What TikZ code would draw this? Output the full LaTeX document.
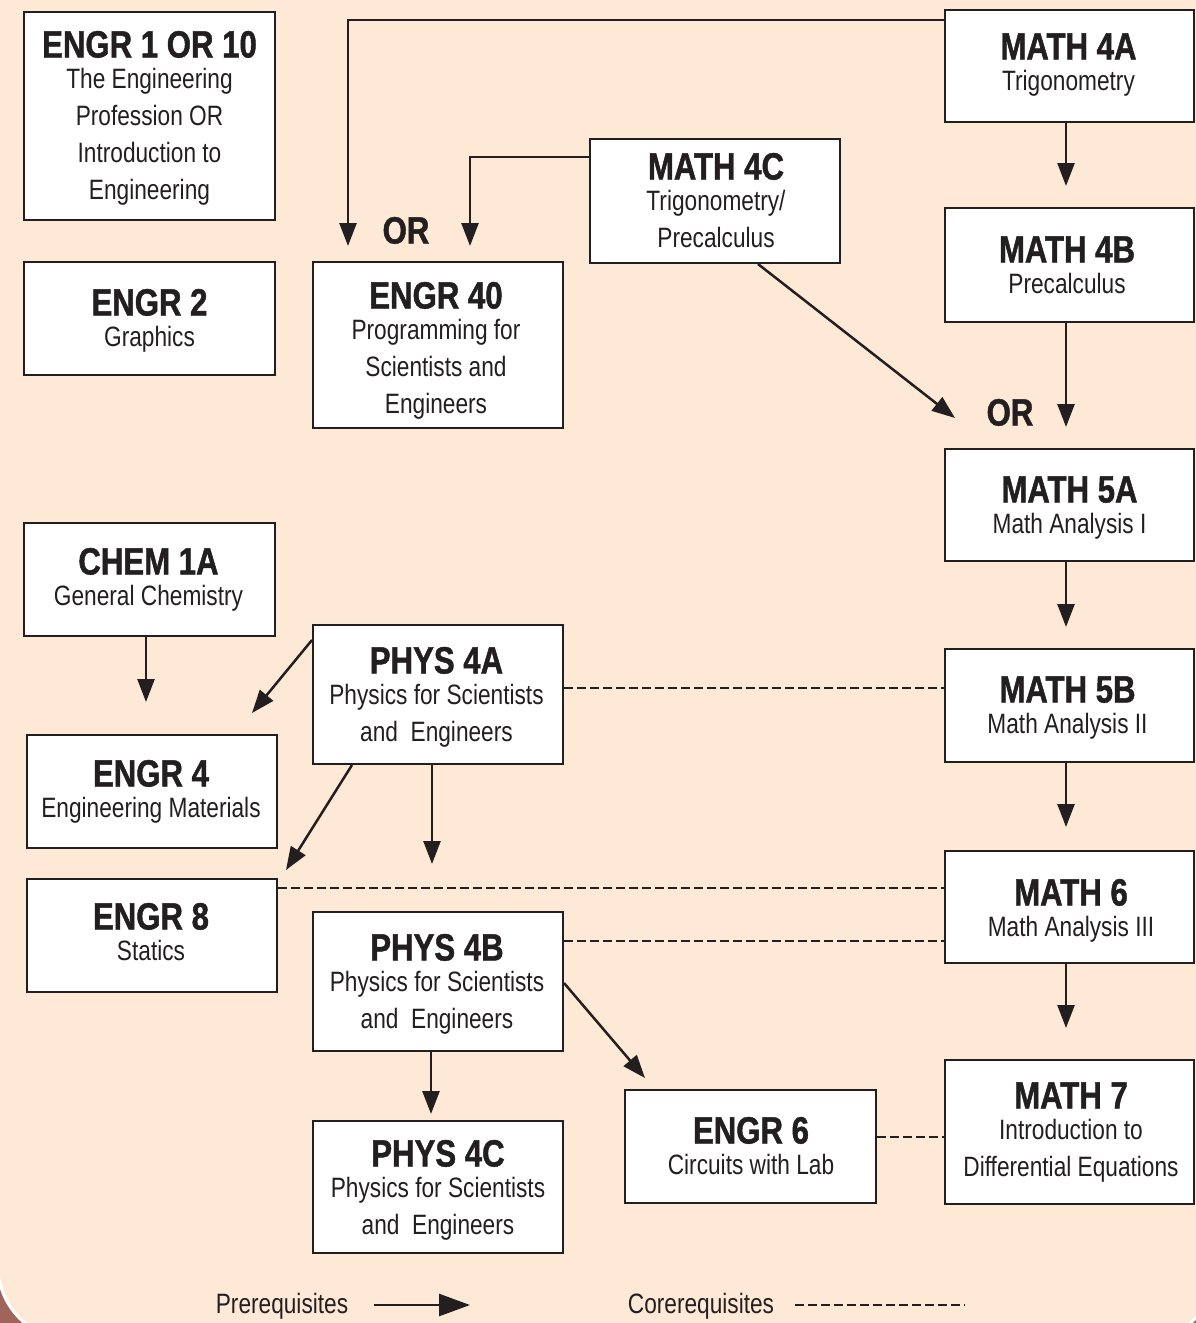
\documentclass[tikz,border=0pt]{standalone}
\usepackage{fontspec}
\setmainfont{Liberation Sans}[FakeStretch=0.81]
\newfontfamily\titlefam{Liberation Sans Bold}[FakeStretch=0.82, FakeBold=1.2]
\newfontfamily\subfam{Liberation Sans}[FakeStretch=0.81]
\usetikzlibrary{arrows.meta}
\definecolor{ink}{HTML}{231F20}
\definecolor{peach}{HTML}{FDE9D6}
\definecolor{rust}{HTML}{A0645A}
\tikzset{
  box/.style={draw=ink, line width=2pt, fill=white, inner sep=0pt},
  ttl/.style={font=\titlefam\fontsize{38}{38}\selectfont, text=ink, anchor=base, inner sep=0pt},
  subtxt/.style={font=\subfam\fontsize{28}{37}\selectfont, text=ink, anchor=base, inner sep=0pt},
  prereq/.style={draw=ink, line width=2.5pt, -{Triangle[length=23pt,width=17pt]}},
  coreq/.style={draw=ink, line width=2.5pt, dash pattern=on 9pt off 4pt},
}
\begin{document}
\begin{tikzpicture}[x=1pt,y=-1pt]
\useasboundingbox (0,0) rectangle (1196,1323);
% background
\fill[rust] (0,0) rectangle (1196,1323);
\draw[white, line width=3pt, fill=peach, rounded corners=74pt] (-2,-100) rectangle (1217,1340);

% boxes
\node[box, minimum width=251pt, minimum height=208pt] (engr1) at (149.5,116) {};
\node[box, minimum width=251pt, minimum height=113pt] (engr2) at (149.5,318.5) {};
\node[box, minimum width=250pt, minimum height=166pt] (engr40) at (438,345) {};
\node[box, minimum width=250pt, minimum height=124pt] (math4c) at (715,201) {};
\node[box, minimum width=249pt, minimum height=112pt] (math4a) at (1069.5,66) {};
\node[box, minimum width=249pt, minimum height=114pt] (math4b) at (1069.5,265) {};
\node[box, minimum width=249pt, minimum height=112pt] (math5a) at (1069.5,505) {};
\node[box, minimum width=251pt, minimum height=113pt] (chem1a) at (149.5,579.5) {};
\node[box, minimum width=250pt, minimum height=139pt] (phys4a) at (438,694.5) {};
\node[box, minimum width=249pt, minimum height=113pt] (math5b) at (1069.5,705.5) {};
\node[box, minimum width=250pt, minimum height=113pt] (engr4) at (152,791.5) {};
\node[box, minimum width=250pt, minimum height=113pt] (engr8) at (152,935.5) {};
\node[box, minimum width=249pt, minimum height=112pt] (math6) at (1069.5,907) {};
\node[box, minimum width=250pt, minimum height=139pt] (phys4b) at (438,981.5) {};
\node[box, minimum width=250pt, minimum height=132pt] (phys4c) at (438,1187) {};
\node[box, minimum width=251pt, minimum height=113pt] (engr6) at (750.5,1146.5) {};
\node[box, minimum width=249pt, minimum height=144pt] (math7) at (1069.5,1132) {};

% texts
\node[ttl] (engr1t) at (149.5,57.5) {ENGR 1 OR 10};
\node[subtxt] (engr1a) at (149.5,88) {The Engineering};
\node[subtxt] (engr1b) at (149.5,125) {Profession OR};
\node[subtxt] (engr1c) at (149.5,162) {Introduction to};
\node[subtxt] (engr1d) at (149.5,199) {Engineering};

\node[ttl] (engr2t) at (149.5,315.5) {ENGR 2};
\node[subtxt] (engr2a) at (149.5,346) {Graphics};

\node[ttl] (engr40t) at (436,308.5) {ENGR 40};
\node[subtxt] (engr40a) at (436,339) {Programming for};
\node[subtxt] (engr40b) at (436,376) {Scientists and};
\node[subtxt] (engr40c) at (436,413) {Engineers};

\node[ttl] (math4ct) at (716,179.5) {MATH 4C};
\node[subtxt] (math4ca) at (716,210) {Trigonometry/};
\node[subtxt] (math4cb) at (716,247) {Precalculus};

\node[ttl] (math4at) at (1068.5,59.5) {MATH 4A};
\node[subtxt] (math4aa) at (1068.5,90) {Trigonometry};

\node[ttl] (math4bt) at (1067,262.5) {MATH 4B};
\node[subtxt] (math4ba) at (1067,293) {Precalculus};

\node[ttl] (math5at) at (1069.5,502.5) {MATH 5A};
\node[subtxt] (math5aa) at (1069.5,533) {Math Analysis I};

\node[ttl] (chem1at) at (148.5,574.5) {CHEM 1A};
\node[subtxt] (chem1aa) at (148.5,605) {General Chemistry};

\node[ttl] (phys4at) at (436.5,673.5) {PHYS 4A};
\node[subtxt] (phys4aa) at (436.5,704) {Physics for Scientists};
\node[subtxt] (phys4ab) at (436.5,741) {and~~Engineers};

\node[ttl] (math5bt) at (1067.5,702.5) {MATH 5B};
\node[subtxt] (math5ba) at (1067.5,733) {Math Analysis II};

\node[ttl] (engr4t) at (151,786.5) {ENGR 4};
\node[subtxt] (engr4a) at (151,817) {Engineering Materials};

\node[ttl] (math6t) at (1071,905.5) {MATH 6};
\node[subtxt] (math6a) at (1071,936) {Math Analysis III};

\node[ttl] (engr8t) at (151,929.5) {ENGR 8};
\node[subtxt] (engr8a) at (151,960) {Statics};

\node[ttl] (phys4bt) at (437,960.5) {PHYS 4B};
\node[subtxt] (phys4ba) at (437,991) {Physics for Scientists};
\node[subtxt] (phys4bb) at (437,1028) {and~~Engineers};

\node[ttl] (math7t) at (1071,1108.5) {MATH 7};
\node[subtxt] (math7a) at (1071,1139) {Introduction to};
\node[subtxt] (math7b) at (1071,1176) {Differential Equations};

\node[ttl] (engr6t) at (751,1143.5) {ENGR 6};
\node[subtxt] (engr6a) at (751,1174) {Circuits with Lab};

\node[ttl] (phys4ct) at (438,1166.5) {PHYS 4C};
\node[subtxt] (phys4ca) at (438,1197) {Physics for Scientists};
\node[subtxt] (phys4cb) at (438,1234) {and~~Engineers};

\node[ttl] (or1) at (406,243.5) {OR};
\node[ttl] (or2) at (1010,425.5) {OR};

% arrow targets
\coordinate (t1) at (348,246);
\coordinate (t2) at (470,246);
\coordinate (t3) at (1066,186);
\coordinate (t4) at (955,418);
\coordinate (t5) at (1066,427);
\coordinate (t6) at (1066,627);
\coordinate (t7) at (1066,827);
\coordinate (t8) at (1066,1028);
\coordinate (t9) at (146,702);
\coordinate (t10) at (252,713);
\coordinate (t11) at (286,870);
\coordinate (t12) at (432,864);
\coordinate (t13) at (431,1114);
\coordinate (t14) at (645,1078);

% prerequisites
\draw[prereq] ([yshift=-11pt]math4a.north west) -| (t1);
\draw[prereq] ([yshift=-19pt]math4c.north west) -| (t2);
\draw[prereq] (t3 |- math4a.south) -- (t3);
\draw[prereq] ([xshift=43pt]math4c.south) -- (t4);
\draw[prereq] (t5 |- math4b.south) -- (t5);
\draw[prereq] (t6 |- math5a.south) -- (t6);
\draw[prereq] (t7 |- math5b.south) -- (t7);
\draw[prereq] (t8 |- math6.south) -- (t8);
\draw[prereq] (t9 |- chem1a.south) -- (t9);
\draw[prereq] ([yshift=-16pt]phys4a.north west) -- (t10);
\draw[prereq] ([xshift=40pt]phys4a.south west) -- (t11);
\draw[prereq] (t12 |- phys4a.south) -- (t12);
\draw[prereq] (t13 |- phys4b.south) -- (t13);
\draw[prereq] ([yshift=-72pt]phys4b.north east) -- (t14);

% corequisites
\draw[coreq] ([yshift=-64pt]phys4a.north east) -- ([yshift=-40pt]math5b.north west);
\draw[coreq] ([yshift=-10pt]engr8.north east) -- ([yshift=-38pt]math6.north west);
\draw[coreq] ([yshift=-30pt]phys4b.north east) -- ([yshift=-91pt]math6.north west);
\draw[coreq] ([yshift=-48pt]engr6.north east) -- ([yshift=-78pt]math7.north west);

% legend
\node[subtxt] (lgpre) at (282,1313) {Prerequisites};
\node[subtxt] (lgco) at (701,1313) {Corerequisites};
\coordinate (lp1) at (374,1305);
\coordinate (lp2) at (470,1305);
\coordinate (lc1) at (795,1305);
\coordinate (lc2) at (965,1305);
\draw[draw=ink, line width=2.7pt, -{Triangle[length=31pt,width=22pt]}] (lp1) -- (lp2);
\draw[coreq] (lc1) -- (lc2);
\end{tikzpicture}
\end{document}
